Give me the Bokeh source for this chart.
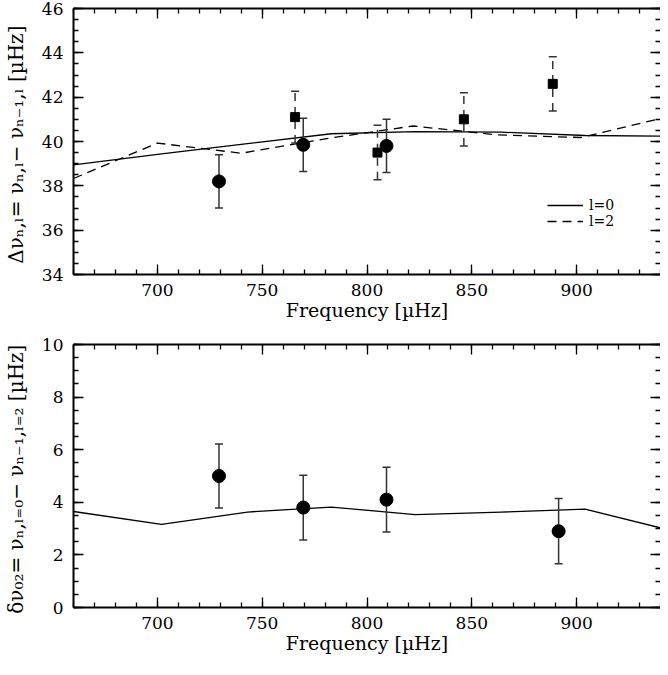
from bokeh.plotting import figure
from bokeh.models import LinearAxis, Legend, LegendItem, BasicTicker
from bokeh.layouts import column
from bokeh.embed import file_html
from bokeh.resources import INLINE
import numpy as np

# ---------------- data ----------------
# Top panel: large separations
obs_freq_l0 = [729.4, 769.6, 809.3]
obs_dnu_l0 = [38.2, 39.85, 39.8]
obs_err_l0 = [1.2, 1.2, 1.2]

obs_freq_l2 = [765.7, 805.0, 846.2, 888.6]
obs_dnu_l2 = [41.1, 39.5, 41.0, 42.6]
obs_err_l2 = [1.17, 1.23, 1.2, 1.22]

mod_freq_l0 = [660, 702, 743, 783, 823, 864, 904, 944]
mod_dnu_l0 = [38.95, 39.44, 39.9, 40.35, 40.45, 40.42, 40.27, 40.24]

mod_freq_l2 = [660, 700, 740, 782, 822, 862, 902, 942]
mod_dnu_l2 = [38.33, 39.93, 39.47, 40.15, 40.7, 40.3, 40.18, 41.08]

# Bottom panel: small separations
obs_freq_d02 = [729.4, 769.6, 809.3, 891.4]
obs_d02 = [5.0, 3.8, 4.1, 2.9]
obs_err_d02 = [1.22, 1.23, 1.23, 1.24]

mod_freq_d02 = [660, 702, 743, 783, 823, 864, 904, 944]
mod_d02 = [3.65, 3.16, 3.63, 3.82, 3.53, 3.63, 3.74, 2.95]

xlabel = "Frequency [\u00b5Hz]"
ylabel_top = "\u0394\u03bd\u2099,\u2097= \u03bd\u2099,\u2097\u2212 \u03bd\u2099\u208b\u2081,\u2097  [\u00b5Hz]"
ylabel_bot = "\u03b4\u03bd\u2080\u2082= \u03bd\u2099,\u2097\u208c\u2080\u2212 \u03bd\u2099\u208b\u2081,\u2097\u208c\u2082  [\u00b5Hz]"

FONT = "DejaVu Serif"
ERRC = "#333333"


def style_axis(ax, labels=True, line=True):
    ax.major_tick_in = 10
    ax.major_tick_out = 0
    ax.minor_tick_in = 5
    ax.minor_tick_out = 0
    ax.major_tick_line_color = "black"
    ax.minor_tick_line_color = "black"
    ax.major_tick_line_width = 1.3
    ax.minor_tick_line_width = 1.3
    ax.axis_line_width = 2
    ax.axis_line_color = "black" if line else None
    ax.major_label_text_font = FONT
    ax.axis_label_text_font = FONT
    ax.axis_label_text_font_style = "normal"
    ax.axis_label_text_color = "black"
    if labels:
        ax.major_label_text_font_size = "17px"
        ax.major_label_text_color = "black"
    else:
        ax.major_label_text_font_size = "1px"
        ax.major_label_text_color = None
        ax.major_label_standoff = 0
        ax.axis_label = None


def make_fig(yr, ylabel, height, top_border, bottom_border):
    p = figure(width=660, height=height, x_range=(660, 940), y_range=yr,
               output_backend="svg", toolbar_location=None,
               min_border_left=70, min_border_right=0, min_border_top=top_border,
               min_border_bottom=bottom_border, background_fill_color="white",
               border_fill_color="white")
    p.outline_line_color = None
    p.xgrid.visible = False
    p.ygrid.visible = False
    xt = BasicTicker(desired_num_ticks=6, num_minor_ticks=5)
    yt = BasicTicker(desired_num_ticks=6, num_minor_ticks=4)
    p.xaxis.ticker = xt
    p.yaxis.ticker = yt
    bx = p.xaxis[0]
    ly = p.yaxis[0]
    style_axis(bx)
    style_axis(ly)
    bx.axis_label = xlabel
    bx.axis_label_text_font_size = "19px"
    bx.major_label_standoff = 9
    bx.axis_label_standoff = 0
    ly.axis_label = ylabel
    ly.axis_label_text_font_size = "20px"
    ly.major_label_standoff = 10
    ly.axis_label_standoff = 11
    top = LinearAxis(ticker=xt)
    style_axis(top, labels=False)
    right = LinearAxis(ticker=yt)
    style_axis(right, labels=False, line=False)
    p.add_layout(top, "above")
    p.add_layout(right, "right")
    return p


def errbars(p, x, y, e, dash):
    x = np.array(x, float)
    y = np.array(y, float)
    e = np.array(e, float)
    p.segment(x0=x, y0=y - e, x1=x, y1=y + e, line_color=ERRC, line_width=1.5,
              line_dash=dash)
    p.scatter(x=np.concatenate([x, x]), y=np.concatenate([y - e, y + e]),
              marker="dash", size=8, line_color=ERRC, line_width=1.5)


# ---------------- top panel ----------------
p1 = make_fig((34, 46), ylabel_top, 336, 8, 62)
r0 = p1.line(mod_freq_l0, mod_dnu_l0, line_color="black", line_width=1.3)
r2 = p1.line(mod_freq_l2, mod_dnu_l2, line_color="black", line_width=1.3, line_dash="9 6")
errbars(p1, obs_freq_l2, obs_dnu_l2, obs_err_l2, "8 6")
errbars(p1, obs_freq_l0, obs_dnu_l0, obs_err_l0, "solid")
p1.scatter(obs_freq_l2, obs_dnu_l2, marker="square", size=9, fill_color="black", line_color="black")
p1.scatter(obs_freq_l0, obs_dnu_l0, marker="circle", size=13, fill_color="black", line_color="black")

leg = Legend(items=[LegendItem(label="l=0", renderers=[r0]),
                    LegendItem(label="l=2", renderers=[r2])],
             location=(474, 45), orientation="vertical",
             background_fill_alpha=0, border_line_color=None,
             padding=0, margin=0, spacing=0, glyph_width=36, glyph_height=14,
             label_height=14, label_standoff=6, label_text_color="black",
             label_text_font=FONT, label_text_font_size="14px")
p1.add_layout(leg, "center")

# ---------------- bottom panel ----------------
p2 = make_fig((0, 10), ylabel_bot, 321, 8, 50)
p2.line(mod_freq_d02, mod_d02, line_color="black", line_width=1.3)
errbars(p2, obs_freq_d02, obs_d02, obs_err_d02, "solid")
p2.scatter(obs_freq_d02, obs_d02, marker="circle", size=13, fill_color="black", line_color="black")

layout = column(p1, p2, spacing=0)
open("out.html", "w").write(file_html(layout, INLINE))
